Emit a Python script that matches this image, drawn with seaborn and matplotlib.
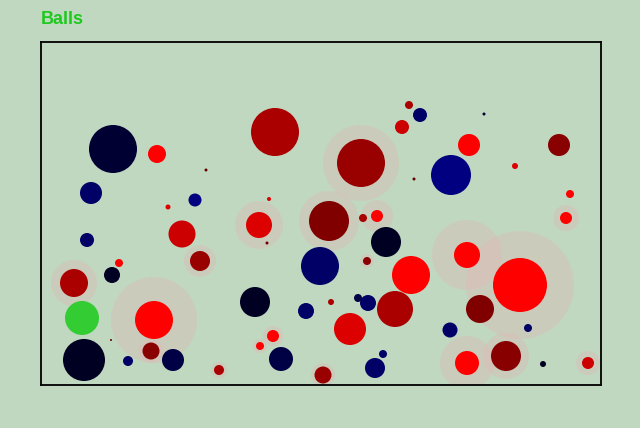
import matplotlib
matplotlib.use("Agg")
import matplotlib.pyplot as plt
import numpy as np
import pandas as pd
import seaborn as sns

# ball centres / radii in pixels of the original frame (x from left, y from top)
ball_x = [113, 157, 206, 91, 168, 195, 87, 182, 200, 74, 119, 112, 82, 154, 111,
          84, 128, 151, 173, 219, 255, 260, 275, 361, 409, 420, 402, 414, 259, 269,
          267, 329, 363, 377, 386, 484, 469, 451, 515, 559, 570, 566, 467, 520, 480,
          450, 528, 467, 506, 543, 588, 411, 320, 367, 331, 306, 358, 368, 395, 350,
          273, 281, 323, 383, 375]
ball_y = [149, 154, 170, 193, 207, 200, 240, 234, 261, 283, 263, 275, 318, 320, 340,
          360, 361, 351, 360, 370, 302, 346, 132, 163, 105, 115, 127, 179, 225, 199,
          243, 221, 218, 216, 242, 114, 145, 175, 166, 145, 194, 218, 255, 285, 309,
          330, 328, 363, 356, 364, 363, 275, 266, 261, 302, 311, 298, 303, 309, 329,
          336, 359, 375, 354, 368]
ball_r = [24, 9, 1.5, 11, 2.5, 6.5, 7, 13.5, 10, 14, 4, 8, 17, 19, 1,
          21, 5, 8.5, 11, 5, 15, 4, 24, 24, 4, 7, 7, 1.5, 13, 2,
          1.5, 20, 4, 6, 15, 1.5, 11, 20, 3, 11, 4, 6, 13, 27, 14,
          7.5, 4, 12, 15, 3, 6, 19, 19, 4, 3, 8, 4, 8, 18, 16,
          6, 12, 8.5, 4, 10]
ball_color = ["#000033", "#ff0000", "#660000", "#000066", "#dd0000", "#000080", "#000066",
              "#cc0000", "#990000", "#aa0000", "#ff0000", "#000022", "#33cc33", "#ff0000",
              "#660000", "#000022", "#000066", "#880000", "#000044", "#aa0000", "#000022",
              "#ff0000", "#aa0000", "#990000", "#aa0000", "#000066", "#cc0000", "#660000",
              "#dd0000", "#dd0000", "#660000", "#800000", "#aa0000", "#ff0000", "#000022",
              "#000033", "#ff0000", "#000080", "#dd0000", "#880000", "#ff0000", "#ff0000",
              "#ff0000", "#ff0000", "#800000", "#000066", "#000066", "#ff0000", "#880000",
              "#000022", "#cc0000", "#ff0000", "#000066", "#880000", "#aa0000", "#000066",
              "#000044", "#000066", "#aa0000", "#dd0000", "#ff0000", "#000044", "#990000",
              "#000066", "#000066"]
halo_r = [0, 0, 0, 0, 0, 0, 0, 0, 16, 23, 0, 0, 0, 43, 0,
          0, 0, 12, 0, 8, 0, 7, 0, 38, 0, 0, 0, 0, 24, 0,
          0, 30, 0, 16, 0, 0, 0, 0, 0, 0, 0, 13, 35, 54, 0,
          0, 0, 27, 23, 0, 12, 0, 0, 7, 0, 0, 0, 0, 0, 0,
          10, 0, 12, 0, 0]

FRAME_L, FRAME_R, FRAME_T, FRAME_B = 41, 601, 42, 385
BG = "#c0d7c0"
DPI = 100


def area(r):
    # pixel radius -> scatter marker area in points^2
    d = 2 * np.asarray(r, dtype=float) * 72 / DPI
    return d ** 2


df = pd.DataFrame({
    "x": np.array(ball_x) - FRAME_L,
    "y": FRAME_B - np.array(ball_y),
    "r": ball_r,
    "color": ball_color,
    "halo": halo_r,
})
halos = df[df["halo"] > 0]

fig = plt.figure(figsize=(6.4, 4.28), dpi=DPI, facecolor=BG)
ax = fig.add_axes([FRAME_L / 640, 1 - FRAME_B / 428,
                   (FRAME_R - FRAME_L) / 640, (FRAME_B - FRAME_T) / 428])
ax.set_facecolor(BG)

sns.scatterplot(data=halos, x="x", y="y", s=area(halos["halo"]),
                color=(230 / 255, 178 / 255, 178 / 255), alpha=0.3,
                linewidth=0, legend=False, ax=ax)
sns.scatterplot(data=df, x="x", y="y", hue="color",
                palette={c: c for c in set(ball_color)}, s=area(df["r"]),
                linewidth=0, legend=False, ax=ax)

ax.set_xlim(0, FRAME_R - FRAME_L)
ax.set_ylim(0, FRAME_B - FRAME_T)
ax.set_xticks([])
ax.set_yticks([])
ax.set_xlabel("")
ax.set_ylabel("")
for sp in ax.spines.values():
    sp.set_color("black")
    sp.set_linewidth(1.3)

fig.text(41 / 640, 1 - 19 / 428, "Balls", color="#1ec81e", fontsize=13,
         fontweight="bold", family=["Liberation Sans", "DejaVu Sans"], va="center")

fig.savefig("out.png", dpi=DPI, facecolor=BG)
